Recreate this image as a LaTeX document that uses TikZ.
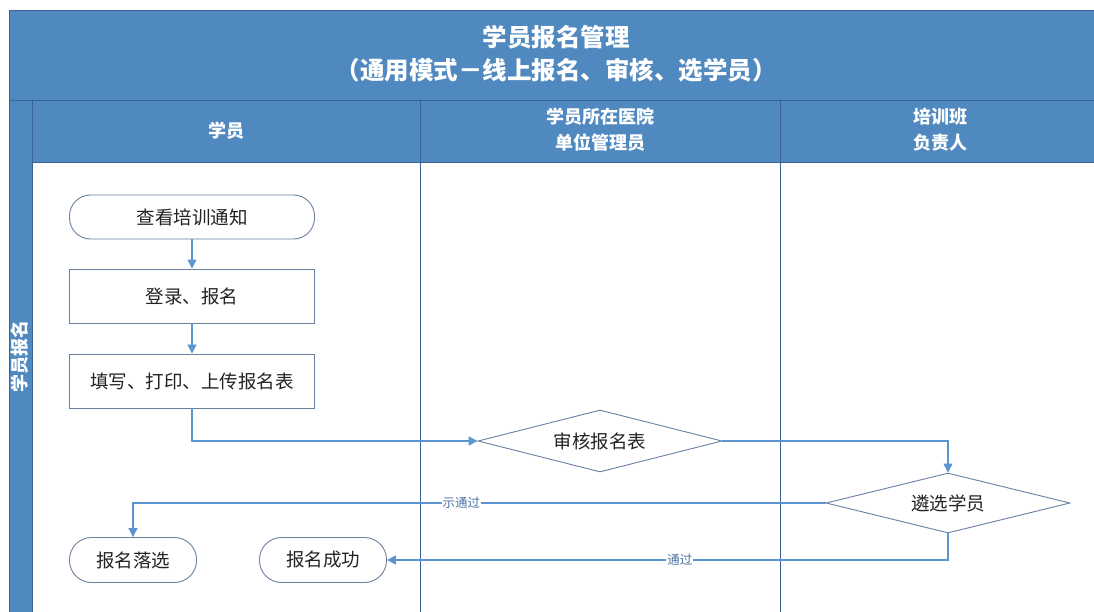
\documentclass[tikz,border=0pt]{standalone}
\usepackage{fontspec}
\setmainfont{Noto Sans CJK SC}
\usetikzlibrary{arrows.meta,shapes.geometric}
\definecolor{band}{RGB}{80,137,191}
\definecolor{bandline}{RGB}{58,100,150}
\definecolor{conn}{RGB}{92,148,207}
\definecolor{nodeb}{RGB}{105,128,160}
\definecolor{txt}{RGB}{35,35,35}
\definecolor{lbl}{RGB}{75,115,165}
\begin{document}
\begin{tikzpicture}[x=1pt,y=-1pt,
  boxstyle/.style={draw=nodeb,line width=0.9pt,fill=white,minimum width=245pt,minimum height=54pt,inner sep=0pt,font=\fontsize{18.5}{20}\selectfont,text=txt},
  termstyle/.style={boxstyle,rounded corners=21pt,minimum height=44pt},
  smallterm/.style={termstyle,minimum width=127pt,minimum height=45pt,rounded corners=22pt},
  decstyle/.style={diamond,aspect=3.9,draw=nodeb,line width=0.9pt,fill=white,minimum width=244pt,minimum height=62pt,inner sep=0pt,font=\fontsize{18.5}{20}\selectfont,text=txt},
  arr/.style={draw=conn,line width=1.3pt,-{Triangle[width=9pt,length=9pt]}},
  elabel/.style={fill=white,inner sep=1pt,text=lbl,font=\fontsize{12.5}{13}\selectfont},
  headtxt/.style={text=white,align=center,font=\fontsize{18}{26}\selectfont\bfseries},
  sep/.style={draw=bandline,line width=0.8pt}
]
\useasboundingbox (0,0) rectangle (1094,612);
% bands
\fill[band] (9,10) rectangle (1094,162);
\fill[band] (9,100) rectangle (32,612);
\draw[sep] (9,612) -- (9,10) -- (1094,10);
\draw[sep] (9,100) -- (1094,100);
\draw[sep] (32,162) -- (1094,162);
\draw[sep] (32,100) -- (32,612);
\draw[sep] (420,100) -- (420,612);
\draw[sep] (780,100) -- (780,612);
% titles
\node[text=white,align=center,font=\fontsize{24.5}{33}\selectfont\bfseries] (title) at (556,54) {学员报名管理\\（通用模式－线上报名、审核、选学员）};
\node[headtxt] (h1) at (226,131) {学员};
\node[headtxt] (h2) at (600,130) {学员所在医院\\单位管理员};
\node[headtxt] (h3) at (940,130) {培训班\\负责人};
\node[headtxt,rotate=90] (lane) at (20,356) {学员报名};
% nodes
\node[termstyle] (n1) at (192,217) {查看培训通知};
\node[boxstyle] (n2) at (192,296) {登录、报名};
\node[boxstyle] (n3) at (192,381) {填写、打印、上传报名表};
\node[decstyle] (d1) at (600,441) {审核报名表};
\node[decstyle,minimum height=60pt] (d2) at (948,503) {遴选学员};
\node[smallterm] (f1) at (133,560) {报名落选};
\node[smallterm] (f2) at (323,560) {报名成功};
% connectors
\draw[arr] (n1) -- (n2);
\draw[arr] (n2) -- (n3);
\draw[arr] (n3.south) |- (d1.west);
\draw[arr] (d1.east) -| (d2.north);
\draw[arr] (d2.west) -| node[elabel,pos=0.263] {示通过} (f1.north);
\draw[arr] (d2.south) |- node[elabel,pos=0.739] {通过} (f2.east);
\end{tikzpicture}
\end{document}
